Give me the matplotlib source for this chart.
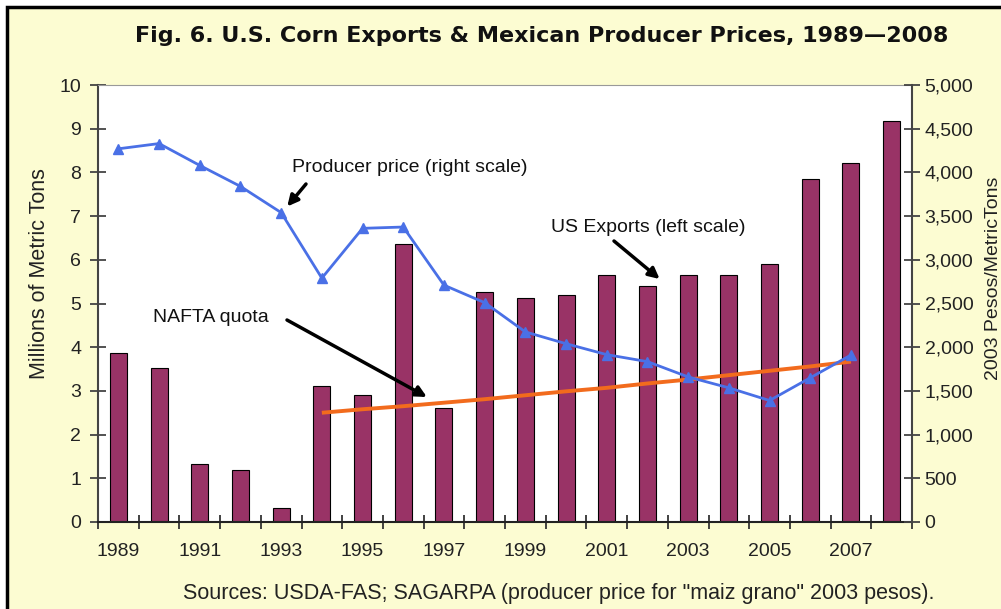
import numpy as np
import matplotlib
matplotlib.use('Agg')
import matplotlib.pyplot as plt
from matplotlib.patches import Rectangle

# Data
years = list(range(1989, 2009))
exports = [3.87, 3.52, 1.33, 1.19, 0.32, 3.11, 2.90, 6.36, 2.61, 5.26,
           5.12, 5.19, 5.65, 5.40, 5.65, 5.65, 5.90, 7.85, 8.22, 9.18]
price_years = list(range(1989, 2008))
price = [4270, 4330, 4080, 3840, 3540, 2790, 3360, 3375, 2710, 2510,
         2175, 2040, 1915, 1835, 1660, 1535, 1390, 1650, 1910]
quota_years = list(range(1994, 2008))
quota = [2.50, 2.58, 2.65, 2.73, 2.81, 2.90, 2.99, 3.07, 3.17, 3.26,
         3.36, 3.46, 3.56, 3.67]

W, H = 1001, 609
bg = '#fcfcd2'
bar_col = '#993366'
blue = '#4a70e6'
orange = '#f26b1d'
font = 'Liberation Sans'

fig = plt.figure(figsize=(W / 100, H / 100), dpi=100, facecolor='white')
fig.patches.append(Rectangle((7 / W, -0.2), 1.2, 1.2 - 7 / H,
                             transform=fig.transFigure, facecolor=bg,
                             edgecolor='black', lw=2.5, zorder=-10))

def px(x, y):
    return x / W, 1 - y / H

l, r, t, b = 98, 912, 85, 522
ax = fig.add_axes([l / W, (H - b) / H, (r - l) / W, (b - t) / H])
ax.set_facecolor('white')

idx = {y: i for i, y in enumerate(years)}
xb = [idx[y] for y in years]
ax.bar(xb, exports, width=0.42, color=bar_col, edgecolor='black', lw=0.8, zorder=2)
ax.plot([idx[y] for y in quota_years], quota, color=orange, lw=2.8, zorder=3,
        solid_capstyle='butt')

ax.set_xlim(-0.5, len(years) - 0.5)
ax.set_ylim(0, 10)
ax.set_yticks(range(0, 11))
ax.set_xticks(np.arange(-0.5, len(years), 1.0))
ax.set_xticklabels([])
ax.set_xticks(range(0, len(years), 2), minor=True)
ax.set_xticklabels([str(y) for y in years[::2]], minor=True)
ax.tick_params(axis='x', which='major', direction='inout', length=10, width=1.3, color='#333333')
ax.tick_params(axis='x', which='minor', length=0, pad=15, labelsize=14)
ax.tick_params(axis='y', direction='inout', length=12, width=1.3, color='#444444',
               labelsize=14, pad=6)
for lab in ax.get_xticklabels(minor=True) + ax.get_yticklabels():
    lab.set_fontfamily(font)
    lab.set_color('#222222')

ax.spines['left'].set_color('#444444')
ax.spines['left'].set_linewidth(1.5)
ax.spines['bottom'].set_color('#222222')
ax.spines['bottom'].set_linewidth(1.5)
ax.spines['top'].set_color('#999999')
ax.spines['right'].set_visible(False)

ax2 = ax.twinx()
ax2.plot([idx[y] for y in price_years], price, color=blue, lw=2, marker='^',
         markersize=7, zorder=4)
ax2.set_ylim(0, 5000)
ax2.set_yticks(range(0, 5001, 500))
ax2.set_yticklabels([f'{v:,}' for v in range(0, 5001, 500)])
ax2.tick_params(axis='y', direction='inout', length=12, width=1.3, color='#444444',
                labelsize=14, pad=3)
for lab in ax2.get_yticklabels():
    lab.set_fontfamily(font)
    lab.set_color('#222222')
for s in ['left', 'top', 'bottom']:
    ax2.spines[s].set_visible(False)
ax2.spines['right'].set_color('#444444')
ax2.spines['right'].set_linewidth(1.5)

# Titles and axis labels
fig.text(*px(542, 36), 'Fig. 6. U.S. Corn Exports & Mexican Producer Prices, 1989\u20142008',
         ha='center', va='center', fontsize=16, fontweight='bold',
         fontfamily='DejaVu Sans', color='#111111')
fig.text(*px(40, 274), 'Millions of Metric Tons', rotation=90, ha='center',
         va='center', fontsize=15.5, fontfamily=font, color='#222222')
fig.text(*px(993, 278), '2003 Pesos/MetricTons', rotation=90, ha='center',
         va='center', fontsize=14, fontfamily=font, color='#222222')
fig.text(*px(559, 593), 'Sources: USDA-FAS; SAGARPA (producer price for "maiz grano" 2003 pesos).',
         ha='center', va='center', fontsize=15.5, fontfamily=font, color='#222222')

# Callouts
fig.text(*px(292, 168), 'Producer price (right scale)', ha='left', va='center',
         fontsize=14, fontfamily=font, color='#111111')
fig.text(*px(551, 228), 'US Exports (left scale)', ha='left', va='center',
         fontsize=14, fontfamily=font, color='#111111')
fig.text(*px(153, 318), 'NAFTA quota', ha='left', va='center',
         fontsize=14, fontfamily=font, color='#111111')

arrow = dict(arrowstyle='-|>', color='black', lw=2.5, mutation_scale=16,
             shrinkA=0, shrinkB=0)
ax2.annotate('', xy=(4.15, 3610), xytext=px(306, 184), textcoords='figure fraction',
             arrowprops=arrow)
ax.annotate('', xy=(13.3, 5.56), xytext=px(614, 241), textcoords='figure fraction',
            arrowprops=arrow)
ax.annotate('', xy=(7.58, 2.86), xytext=px(287, 320), textcoords='figure fraction',
            arrowprops=arrow)

fig.savefig('out.png', dpi=100, facecolor=fig.get_facecolor())
